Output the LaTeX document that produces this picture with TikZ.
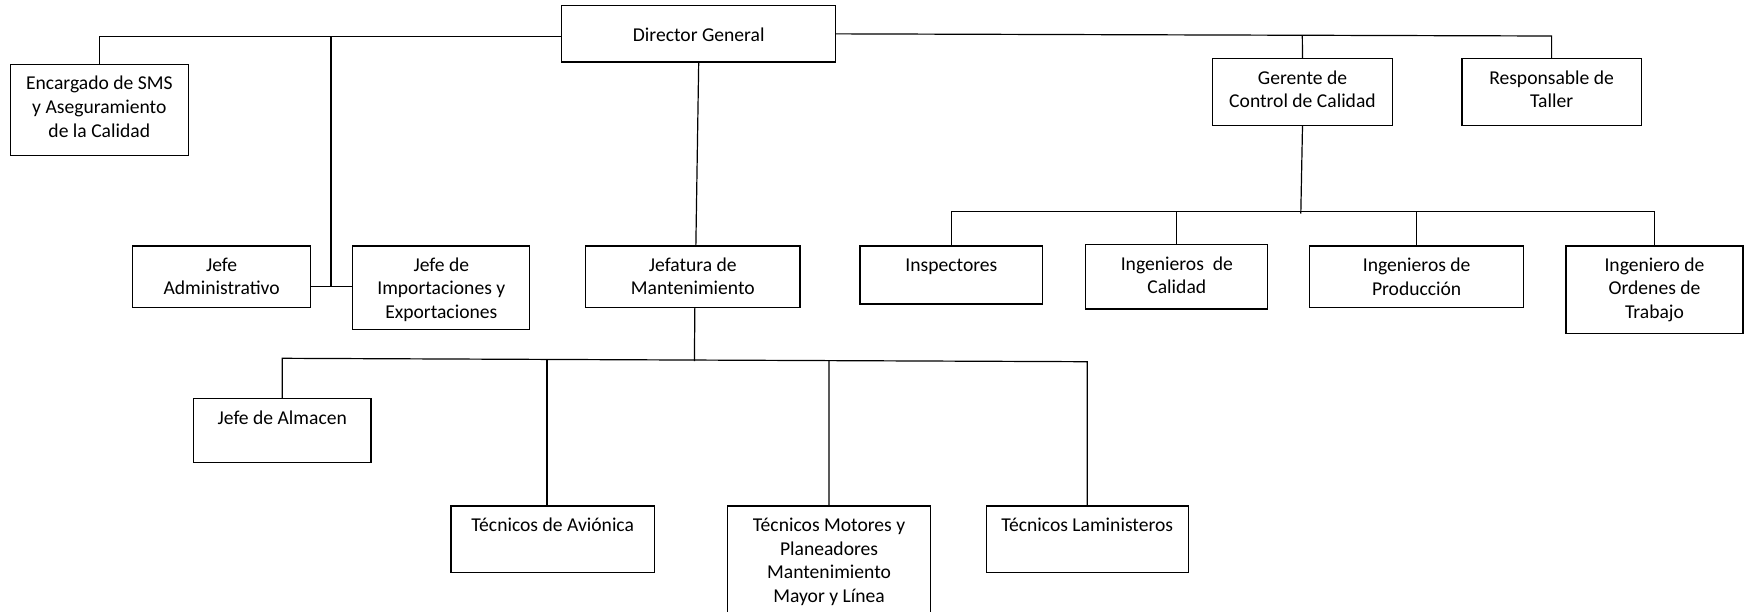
\documentclass[tikz,border=0pt]{standalone}
\usepackage{fontspec}
\setmainfont{Carlito}
\newcommand{\bt}[4]{\parbox[c][#2pt][t]{#1pt}{\centering\vspace*{\dimexpr #3pt - 0.7\baselineskip\relax}\strut #4\par}}
\begin{document}
\begin{tikzpicture}[x=1pt,y=-1pt,
  orgbox/.style={draw, line width=1.1pt, inner sep=0pt, outer sep=0pt, anchor=north west, font={\fontsize{19.6}{23.6}\selectfont}},
  conn/.style={line width=1.2pt}]
\useasboundingbox (0,0) rectangle (1744,611);
\clip (0,0) rectangle (1744,611);
% boxes
\node[orgbox] (dir)  at (561.5,5.7)   {\bt{274.4}{56.3}{36}{Director General}};
\node[orgbox] (enc)  at (10.3,64.3)   {\bt{178}{91}{25.5}{Encargado de SMS\\y Aseguramiento\\de la Calidad}};
\node[orgbox] (ger)  at (1212.8,58.7) {\bt{179.4}{66.6}{25.6}{Gerente de\\Control de Calidad}};
\node[orgbox] (resp) at (1462,58.7)   {\bt{179.2}{66.6}{25.6}{Responsable de\\Taller}};
\node[orgbox] (adm)  at (132.6,246)   {\bt{178.1}{61.3}{25}{Jefe\\Administrativo}};
\node[orgbox] (imp)  at (352.7,246)   {\bt{177.2}{83.3}{25}{Jefe de\\Importaciones y\\Exportaciones}};
\node[orgbox] (jef)  at (585.7,246)   {\bt{214.3}{61.3}{25}{Jefatura de\\Mantenimiento}};
\node[orgbox] (insp) at (860,246)     {\bt{182.7}{58}{25}{Inspectores}};
\node[orgbox] (cal)  at (1085.8,244.7){\bt{182}{64.3}{25.3}{Ingenieros\ \ de\\Calidad}};
\node[orgbox] (prod) at (1309.7,246)  {\bt{213.9}{61.7}{25.7}{Ingenieros de\\Producción}};
\node[orgbox] (ord)  at (1566,246)    {\bt{177}{87.3}{25}{Ingeniero de\\Ordenes de\\Trabajo}};
\node[orgbox] (alm)  at (193.5,398.7) {\bt{177.5}{63.6}{25.3}{Jefe de Almacen}};
\node[orgbox] (avi)  at (451,506)     {\bt{203.4}{66.7}{25.7}{Técnicos de Aviónica}};
\node[orgbox] (mot)  at (727.3,506)   {\bt{203.5}{124}{25.7}{Técnicos Motores y\\Planeadores\\Mantenimiento\\Mayor y Línea}};
\node[orgbox] (lam)  at (986.2,506)   {\bt{202}{66.7}{25.7}{Técnicos Laministeros}};
% junction coordinates
\coordinate (tl) at (331,36.3);
\coordinate (tlb) at (331,286.7);
\coordinate (tr) at (1551.6,36);
\coordinate (tg) at (1302.3,35.1);
\coordinate (gb) at (1300.8,211.7);
\coordinate (gbe) at (1300.8,213.5);
\coordinate (ja) at (282.3,358.3);
\coordinate (jz) at (1087.2,361.7);
\coordinate (jm) at (694.4,361);
\coordinate (jv) at (547,359.4);
\coordinate (jw) at (829,360.6);
% connectors
\draw[conn] (enc.north) |- (tl) -- (tl -| dir.west);
\draw[conn] (tl) -- (tlb);
\draw[conn] (adm.east |- tlb) -- (imp.west |- tlb);
\draw[conn] (dir.east) -- (tr) -- (resp.north);
\draw[conn] (tg) -- (ger.north);
\draw[conn] (dir.south) -- ([xshift=3pt]jef.north);
\draw[conn] (ger.south) -- (gbe);
\draw[conn] (insp.north) |- (gb) -| (ord.north);
\draw[conn] (cal.north) -- (cal.north |- gb);
\draw[conn] (prod.north) -- (prod.north |- gb);
\draw[conn] ([xshift=2pt]jef.south) -- (jm);
\draw[conn] (alm.north) -- (ja) -- (jz) -- (lam.north);
\draw[conn] ([xshift=-5.7pt]avi.north) -- (jv);
\draw[conn] (mot.north) -- (jw);
\end{tikzpicture}
\end{document}
